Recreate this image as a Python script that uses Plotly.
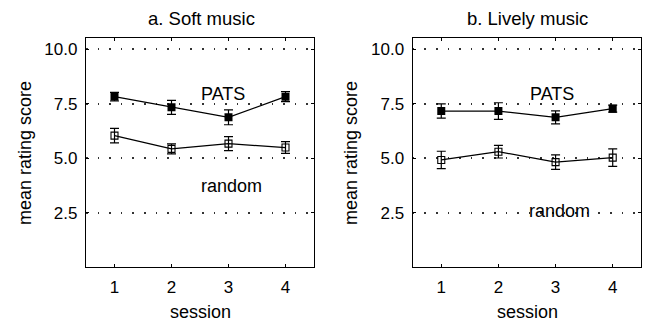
import plotly.graph_objects as go

sessions = [1, 2, 3, 4]
tick_vals_y = [2.5, 5.0, 7.5, 10.0]
tick_text_y = ["2.5", "5.0", "7.5", "10.0"]

soft_pats = [7.83, 7.34, 6.88, 7.83]
soft_pats_err = [0.20, 0.32, 0.34, 0.23]
soft_random = [6.04, 5.43, 5.67, 5.49]
soft_random_err = [0.33, 0.23, 0.32, 0.27]

lively_pats = [7.17, 7.17, 6.88, 7.28]
lively_pats_err = [0.33, 0.38, 0.30, 0.16]
lively_random = [4.92, 5.30, 4.82, 5.03]
lively_random_err = [0.40, 0.29, 0.33, 0.40]

titles = ["a. Soft music", "b. Lively music"]
FONT = "Liberation Sans, Arial, Helvetica, sans-serif"
W, H = 646, 322

fig = go.Figure()

panels = [
    (soft_pats, soft_pats_err, soft_random, soft_random_err, "x", "y"),
    (lively_pats, lively_pats_err, lively_random, lively_random_err, "x2", "y2"),
]
for pats, perr, rnd, rerr, xa, ya in panels:
    fig.add_trace(go.Scatter(
        x=sessions, y=pats, xaxis=xa, yaxis=ya, mode="lines+markers",
        line=dict(color="black", width=1.3),
        marker=dict(symbol="square", size=8, color="black"),
        error_y=dict(type="data", array=perr, color="black", thickness=1.2, width=4.5),
        showlegend=False))
    fig.add_trace(go.Scatter(
        x=sessions, y=rnd, xaxis=xa, yaxis=ya, mode="lines+markers",
        line=dict(color="black", width=1.3),
        marker=dict(symbol="square-open", size=7, color="black", line=dict(width=1.1)),
        error_y=dict(type="data", array=rerr, color="black", thickness=1.2, width=4.5),
        showlegend=False))

xdoms = [[86 / W, 314 / W], [412.7 / W, 641.3 / W]]
ydom = [(H - 267) / H, (H - 37.5) / H]

axis_common = dict(
    showline=True, linecolor="black", linewidth=1.3, mirror="allticks",
    ticks="inside", ticklen=3, tickcolor="black", tickwidth=1,
    tickfont=dict(family=FONT, size=17, color="black"), zeroline=False,
)
for i, xa, ya in [(0, "xaxis", "yaxis"), (1, "xaxis2", "yaxis2")]:
    fig.layout[xa] = dict(
        domain=xdoms[i], range=[0.5, 4.5], tickvals=sessions,
        showgrid=False, anchor="y" if i == 0 else "y2", ticklabelstandoff=4, **axis_common)
    fig.layout[ya] = dict(
        domain=ydom, range=[0, 10.55], tickvals=tick_vals_y, ticktext=tick_text_y,
        showgrid=True, gridcolor="#333333", gridwidth=1.6, griddash="1.6px,10px",
        anchor="x" if i == 0 else "x2", ticklabelstandoff=4, **axis_common)

ann = []
def add_text(x, y, text, size, xref="paper", yref="paper", angle=0):
    ann.append(dict(x=x, y=y, xref=xref, yref=yref, text=text, textangle=angle,
                    xanchor="center", yanchor="middle", showarrow=False,
                    font=dict(family=FONT, size=size, color="black")))

for i, xc in enumerate([201, 527]):
    add_text(xc / W, 1 - 18 / H, titles[i], 18.5)
for xc in [200, 527]:
    add_text(xc / W, 1 - 312 / H, "session", 18)
for xc in [25, 351]:
    add_text(xc / W, 1 - 153 / H, "mean rating score", 18, angle=-90)
labels = [("PATS", 2.91, 7.94, "x", "y"), ("random", 3.05, 3.71, "x", "y"),
          ("PATS", 2.94, 7.94, "x2", "y2"), ("random", 3.06, 2.56, "x2", "y2")]
for t, x, y, xr, yr in labels:
    add_text(x, y, t, 18, xref=xr, yref=yr)

fig.update_layout(
    width=W, height=H, margin=dict(l=0, r=0, t=0, b=0),
    paper_bgcolor="white", plot_bgcolor="white", annotations=ann,
)
fig.write_html("out.html", config={"displayModeBar": False},
               post_script="document.body.style.margin='0';")
